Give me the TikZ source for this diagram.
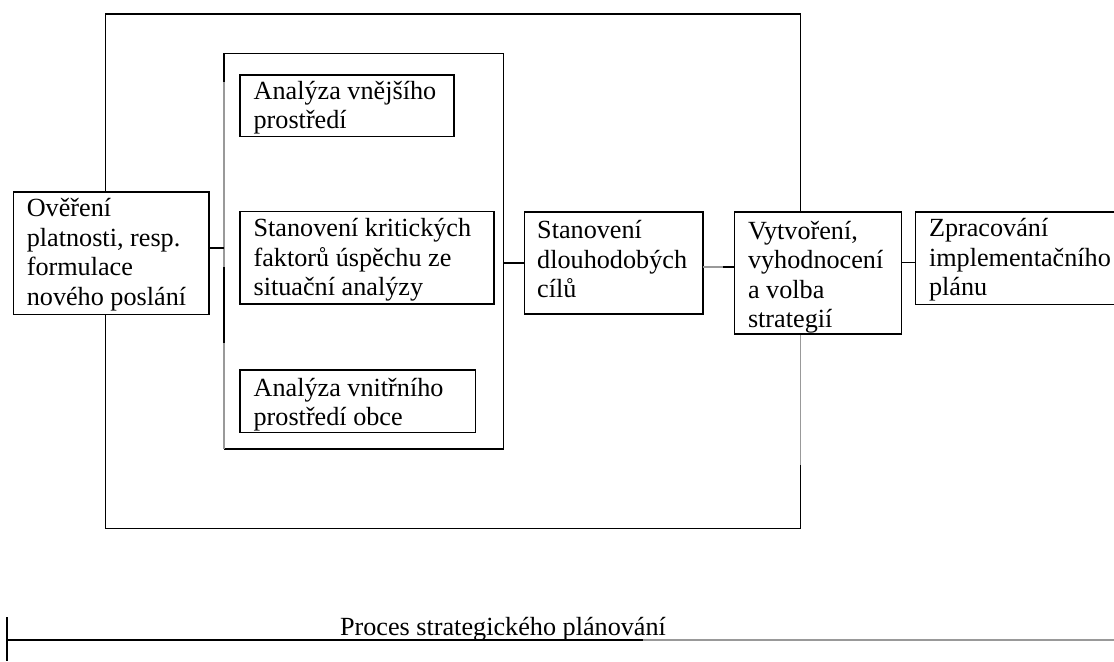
\documentclass[tikz,border=0pt]{standalone}
\usepackage{fontspec}
\setmainfont{Liberation Serif}
\newcommand\tstr{\rule{0pt}{9.2pt}}
\begin{document}
\begin{tikzpicture}[x=0.5pt,y=-0.5pt,
  ln/.style={line width=0.65pt, draw=black},
  gln/.style={line width=0.65pt, draw=black!40},
  frame/.style={rectangle, inner sep=0pt, outer sep=0pt, anchor=north west},
  box/.style={frame, draw=black, line width=0.65pt, fill=white},
  txt/.style={anchor=north west, inner sep=0pt, outer sep=0pt, align=left, font=\fontsize{13.1pt}{14.75pt}\selectfont},
]
\useasboundingbox (0,0) rectangle (1114,661);
\clip (0,0) rectangle (1114,661);

% frames (drawn edge by edge)
\node[frame, minimum width=347.5pt, minimum height=257.15pt] (outer) at (105.7,14) {};
\node[frame, minimum width=139.75pt, minimum height=197.85pt] (inner) at (224,53.3) {};

% helper coordinates
\coordinate (ga) at (0,82);
\coordinate (gb) at (0,267);
\coordinate (gc) at (0,343);
\coordinate (gr) at (0,465);
\coordinate (c1) at (0,248);
\coordinate (c2) at (0,263);
\coordinate (c3) at (0,267);
\coordinate (c3m) at (723,267);
\coordinate (c4) at (0,262.5);

% outer frame
\draw[ln] (outer.east |- gr) -- (outer.south east) -- (outer.south west) -- (outer.north west) -- (outer.north east) -- (outer.east |- c3);
\draw[gln] (outer.east |- c3) -- (outer.east |- gr);

% inner frame
\draw[ln] (inner.west |- ga) -- (inner.north west) -- (inner.north east) -- (inner.south east) -- (inner.south west);
\draw[gln] (inner.west |- ga) -- (inner.west |- gb);
\draw[ln] (inner.west |- gb) -- (inner.west |- gc);
\draw[gln] (inner.west |- gc) -- (inner.south west);

% boxes
\node[box, minimum width=97.7pt, minimum height=61.25pt] (ov) at (13.6,192) {};
\node[box, minimum width=107pt, minimum height=30.85pt] (ae) at (240,75) {};
\node[box, minimum width=127pt, minimum height=46.15pt] (sk) at (240,211.7) {};
\node[box, minimum width=117.85pt, minimum height=31.35pt] (ai) at (240,370) {};
\node[box, minimum width=89.35pt, minimum height=51pt] (sd) at (524.3,212) {};
\node[box, minimum width=83.5pt, minimum height=61pt] (vy) at (734.5,212) {};
\node[box, minimum width=105pt, minimum height=46.15pt] (zp) at (915.5,212) {};

% texts
\node[txt] (tov) at (26.8,198.3) {\tstr Ověření\\platnosti, resp.\\formulace\\nového poslání};
\node[txt] (tae) at (253.6,80.6) {\tstr Analýza vnějšího\\prostředí};
\node[txt] (tsk) at (253.6,218.3) {\tstr Stanovení kritických\\faktorů úspěchu ze\\situační analýzy};
\node[txt] (tai) at (253.6,377.6) {\tstr Analýza vnitřního\\prostředí obce};
\node[txt] (tsd) at (537.2,220.1) {\tstr Stanovení\\dlouhodobých\\cílů};
\node[txt] (tvy) at (748,220.6) {\tstr Vytvoření,\\vyhodnocení\\a volba\\strategií};
\node[txt] (tzp) at (929,218.3) {\tstr Zpracování\\implementačního\\plánu};

% connectors
\draw[ln] (ov.east |- c1) -- (inner.west |- c1);
\draw[ln] (inner.east |- c2) -- (sd.west |- c2);
\draw[gln] (sd.east |- c3) -- (c3m);
\draw[ln] (c3m) -- (vy.west |- c3);
\draw[ln] (vy.east |- c4) -- (zp.west |- c4);

% time line
\coordinate (tt) at (7,617);
\coordinate (tb) at (7,661);
\coordinate (bl) at (7,640);
\coordinate (bg) at (643,640);
\coordinate (br) at (1114,640);
\draw[ln] (tt) -- (tb);
\draw[ln] (bl) -- (bg);
\draw[gln] (bg) -- (br);
\node[anchor=base west, inner sep=0pt, font=\fontsize{13.1pt}{14.75pt}\selectfont] (proc) at (339.6,635) {Proces strategického plánování};
\end{tikzpicture}
\end{document}
